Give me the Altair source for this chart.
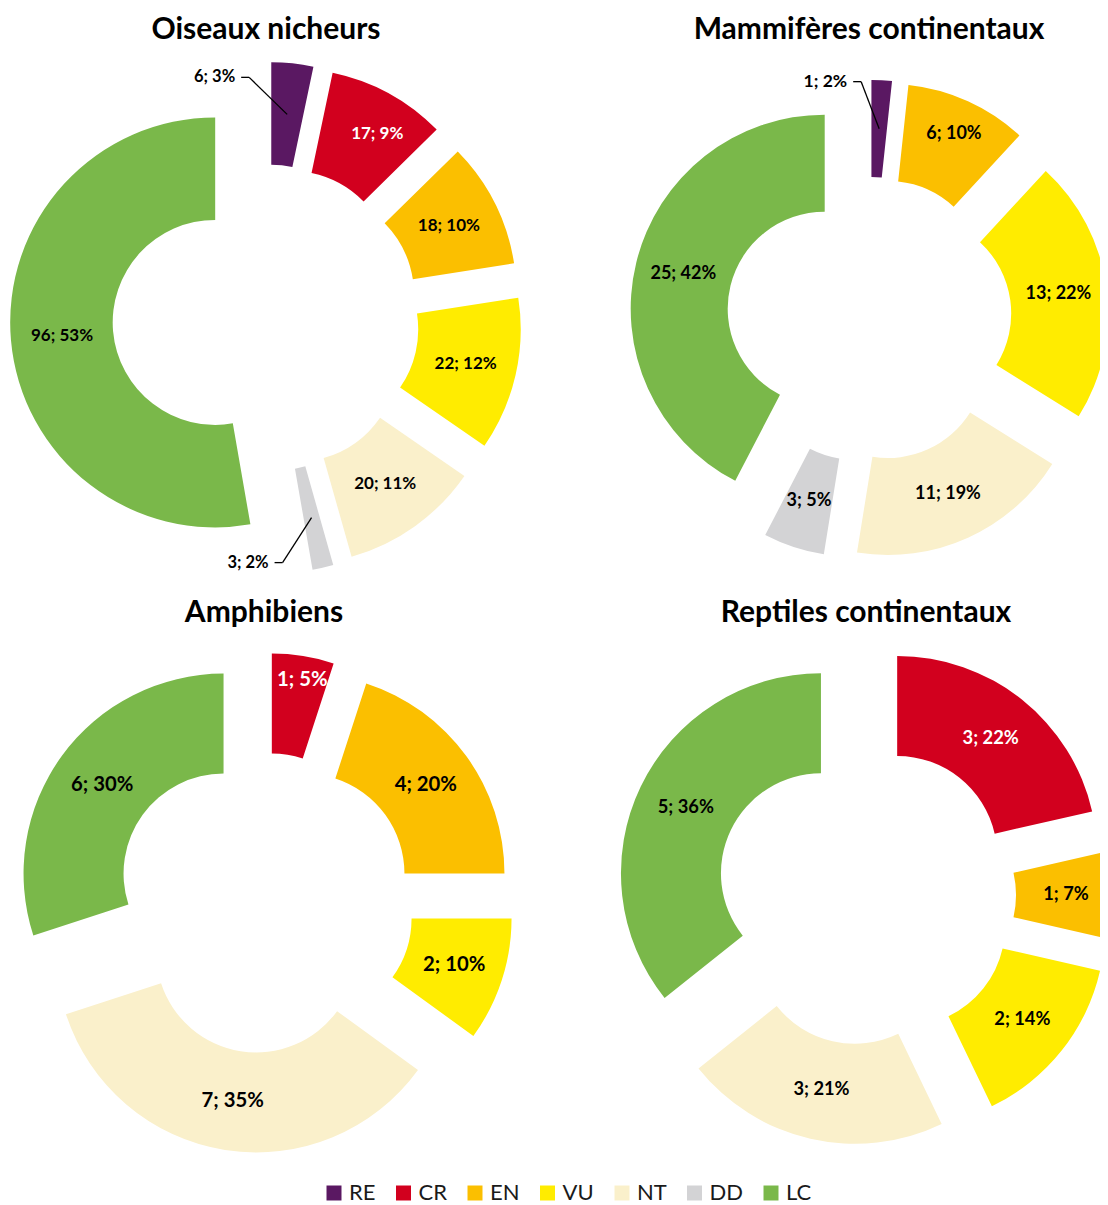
import math
import altair as alt
import pandas as pd

# ---------------- data ----------------
CATEGORIES = ["RE", "CR", "EN", "VU", "NT", "DD", "LC"]
COLORS = ["#5A1862", "#D2001E", "#FBBF00", "#FFEC00", "#FAF0CB", "#D3D3D5", "#7AB84A"]

OISEAUX_COUNTS = [6, 17, 18, 22, 20, 3, 96]
OISEAUX_PCT = [3, 9, 10, 12, 11, 2, 53]
MAMMIFERES_COUNTS = [1, 0, 6, 13, 11, 3, 25]
MAMMIFERES_PCT = [2, 0, 10, 22, 19, 5, 42]
AMPHIBIENS_COUNTS = [0, 1, 4, 2, 7, 0, 6]
AMPHIBIENS_PCT = [0, 5, 20, 10, 35, 0, 30]
REPTILES_COUNTS = [0, 3, 1, 2, 3, 0, 5]
REPTILES_PCT = [0, 22, 7, 14, 21, 0, 36]

TITLES = ["Oiseaux nicheurs", "Mammifères continentaux", "Amphibiens", "Reptiles continentaux"]

# ---------------- layout / style ----------------
FONT = "Lato"
PANELS = [
    dict(title=TITLES[0], counts=OISEAUX_COUNTS, pcts=OISEAUX_PCT,
         cx=258, cy=310, R=205, explode=51, font=17, title_y=22),
    dict(title=TITLES[1], counts=MAMMIFERES_COUNTS, pcts=MAMMIFERES_PCT,
         cx=861, cy=311.5, R=194, explode=45.6, font=18, title_y=22),
    dict(title=TITLES[2], counts=AMPHIBIENS_COUNTS, pcts=AMPHIBIENS_PCT,
         cx=256, cy=895, R=200, explode=50, font=20.3, title_y=605),
    dict(title=TITLES[3], counts=REPTILES_COUNTS, pcts=REPTILES_PCT,
         cx=858, cy=887, R=200, explode=50, font=18.3, title_y=605),
]
# outside labels with leader lines: elbow offset (px, screen y down) from slice anchor
CALLOUTS = {
    (TITLES[0], "RE"): (-38, -37),
    (TITLES[1], "RE"): (-18, -47),
    (TITLES[0], "DD"): (-29, 45),
}
# small label nudges (px, screen y down) as placed in the original
LABEL_NUDGE = {
    (TITLES[0], "CR"): (13, -4),
    (TITLES[1], "EN"): (6, -11),
    (TITLES[2], "CR"): (7, -25),
}
HOLE = 0.5
W, H = 1092, 1197

color_scale = alt.Scale(domain=CATEGORIES, range=COLORS)
legend = alt.Legend(
    orient="none", legendX=315, legendY=1174, direction="horizontal", columns=7,
    title=None, symbolType="square", symbolSize=225, symbolStrokeWidth=0,
    symbolOffset=0, labelFont=FONT, labelFontSize=22, labelColor="#1a1a1a",
    labelOffset=4, columnPadding=16.5, padding=0,
)
theta_scale = alt.Scale(domain=[0, 1], range=[0, 2 * math.pi])


def panel_table(p):
    counts, pcts = p["counts"], p["pcts"]
    total = sum(counts)
    R = p["R"]
    e = p["explode"] / R
    mid_r = (1 + HOLE) / 2
    rows, cum = [], 0
    for cat, c, pc in zip(CATEGORIES, counts, pcts):
        if c <= 0:
            continue
        start = cum / total
        cum += c
        end = cum / total
        mid = math.pi * (start + end)
        sx, sy = math.sin(mid), math.cos(mid)
        lx, ly = (e + mid_r) * sx, (e + mid_r) * sy
        key = (p["title"], cat)
        nx, ny = LABEL_NUDGE.get(key, (0, 0))
        row = dict(cat=cat, count=c, pct=pc, start=start, end=end,
                   ax=e * sx, ay=e * sy, lx=lx, ly=ly,
                   px=lx + nx / R, py=ly - ny / R,
                   label=f"{c}; {pc}%", outside=False,
                   ex=lx, ey=ly, hx=lx, tx=lx)
        if key in CALLOUTS:
            ox, oy = CALLOUTS[key]
            ex, ey = lx + ox / R, ly - oy / R
            row.update(outside=True, ex=ex, ey=ey, hx=ex - 8 / R, tx=ex - 14 / R)
        rows.append(row)
    return pd.DataFrame(rows)


layers = []
for p in PANELS:
    R, cx, cy = p["R"], p["cx"], p["cy"]
    xs = alt.Scale(domain=[-1, 1], range=[cx - R, cx + R], nice=False, zero=False)
    ys = alt.Scale(domain=[-1, 1], range=[cy + R, cy - R], nice=False, zero=False)
    df = panel_table(p)
    base = alt.Chart(df)

    arcs = base.mark_arc(radius=R, radius2=R * HOLE).encode(
        x=alt.X("ax:Q", scale=xs, axis=None),
        y=alt.Y("ay:Q", scale=ys, axis=None),
        theta=alt.Theta("start:Q", scale=theta_scale, stack=None),
        theta2="end:Q",
        color=alt.Color("cat:N", scale=color_scale, legend=legend),
    )
    text_color = alt.condition("datum.cat == 'CR'", alt.value("#ffffff"), alt.value("#000000"))
    inside = base.transform_filter("!datum.outside").mark_text(
        font=FONT, fontWeight="bold", fontSize=p["font"], align="center", baseline="middle"
    ).encode(
        x=alt.X("px:Q", scale=xs, axis=None),
        y=alt.Y("py:Q", scale=ys, axis=None),
        text="label:N",
        color=text_color,
    )
    outside = base.transform_filter("datum.outside").mark_text(
        font=FONT, fontWeight="bold", fontSize=p["font"] - 0.5, align="right", baseline="middle",
        color="#000000",
    ).encode(
        x=alt.X("tx:Q", scale=xs, axis=None),
        y=alt.Y("ey:Q", scale=ys, axis=None),
        text="label:N",
    )
    lead1 = base.transform_filter("datum.outside").mark_rule(color="#000000", strokeWidth=1.3).encode(
        x=alt.X("lx:Q", scale=xs, axis=None), x2="ex:Q",
        y=alt.Y("ly:Q", scale=ys, axis=None), y2="ey:Q",
    )
    lead2 = base.transform_filter("datum.outside").mark_rule(color="#000000", strokeWidth=1.3).encode(
        x=alt.X("ex:Q", scale=xs, axis=None), x2="hx:Q",
        y=alt.Y("ey:Q", scale=ys, axis=None), y2="ey:Q",
    )
    tdf = pd.DataFrame({"title": [p["title"]], "tx": [0.0], "ty": [(cy - p["title_y"]) / R]})
    title = alt.Chart(tdf).mark_text(
        font=FONT, fontWeight="bold", fontSize=30, align="center", baseline="middle", color="#000000"
    ).encode(
        x=alt.X("tx:Q", scale=xs, axis=None),
        y=alt.Y("ty:Q", scale=ys, axis=None),
        text="title:N",
    )
    layers += [arcs, inside, lead1, lead2, outside, title]

chart = alt.layer(*layers).resolve_scale(
    x="independent", y="independent", color="shared"
).properties(
    width=W, height=H, autosize=alt.AutoSizeParams(type="none"), padding=0
).configure_view(stroke=None)

chart.save("out.html", embed_options={"renderer": "svg", "actions": False})
